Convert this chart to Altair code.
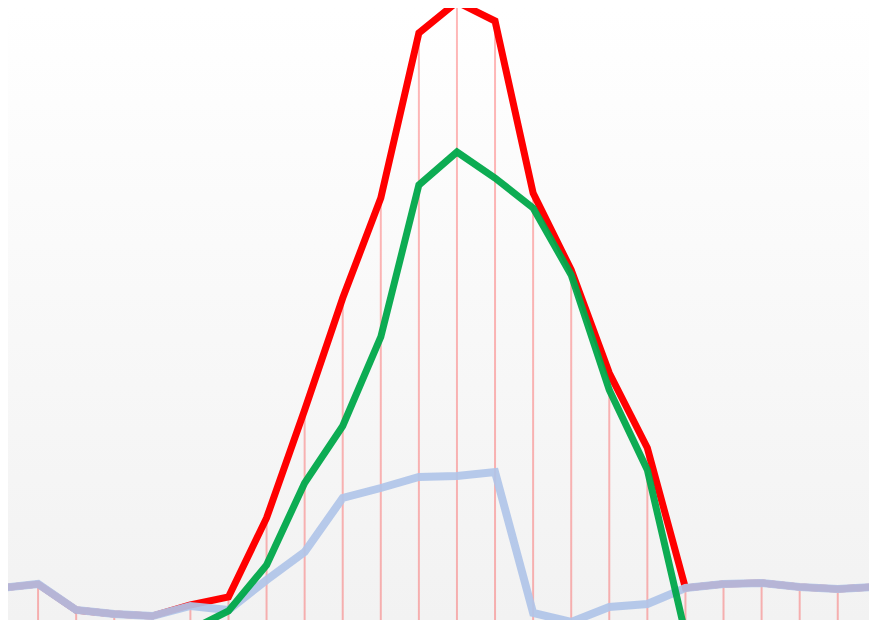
import altair as alt
import pandas as pd

# x index 0..23
idx = list(range(24))
# values (height above bottom edge, pixels scale)
red = [40, 44, 18, 14, 12, 23, 31, 110, 218, 330, 430, 595, 626, 607, 435, 358, 255, 180, 40, 44, 45, 41, 39, 41]
blue = [40, 44, 18, 14, 12, 22, 18, 48, 76, 130, 140, 151, 152, 156, 15, 6, 21, 24, 40, 44, 45, 41, 39, 41]
green = [None, None, None, None, None, -2, 17, 63, 145, 202, 291, 443, 476, 450, 420, 353, 238, 158, -6, None, None, None, None, None]

W, H = 861, 612
xdom = [8 / 38.08, (8 + W) / 38.08]
ydom = [628 - 8 - H, 620]

rows = []
for i in idx:
    rows.append({"i": i, "s": "red", "v": red[i]})
    rows.append({"i": i, "s": "blue", "v": blue[i]})
    if green[i] is not None:
        rows.append({"i": i, "s": "green", "v": green[i]})
df = pd.DataFrame(rows)
dred = pd.DataFrame({"i": idx, "v": red})

xs = alt.Scale(domain=xdom, nice=False, zero=False)
ys = alt.Scale(domain=ydom, nice=False, zero=False)
X = alt.X("i:Q", scale=xs, axis=None)
Y = alt.Y("v:Q", scale=ys, axis=None)

bg = alt.Chart(pd.DataFrame({"a": [0]})).mark_rect(
    color={"gradient": "linear", "x1": 0, "y1": 0, "x2": 0, "y2": 1,
           "stops": [{"offset": 0, "color": "#ffffff"}, {"offset": 1, "color": "#f2f2f2"}]}
).encode(x=alt.value(0), x2=alt.value(W), y=alt.value(0), y2=alt.value(H))

drops = alt.Chart(dred).mark_rule(color="#ff0000", opacity=0.28, strokeWidth=2, clip=True).encode(
    x=X, y=Y, y2=alt.value(H))

def line(s, color, width, opacity=1.0):
    return alt.Chart(df).transform_filter(alt.datum.s == s).mark_line(
        color=color, strokeWidth=width, opacity=opacity, clip=True, strokeJoin="miter"
    ).encode(x=X, y=Y)

chart = alt.layer(
    bg, drops,
    line("red", "#ff0000", 7),
    line("blue", "#b0c4e8", 8, 0.92),
    line("green", "#00a84a", 7, 0.95),
).properties(width=W, height=H, padding=0, autosize=alt.AutoSizeParams(type="none")).configure_view(stroke=None)

chart.save("out.html", embed_options={"renderer": "svg", "actions": False})
